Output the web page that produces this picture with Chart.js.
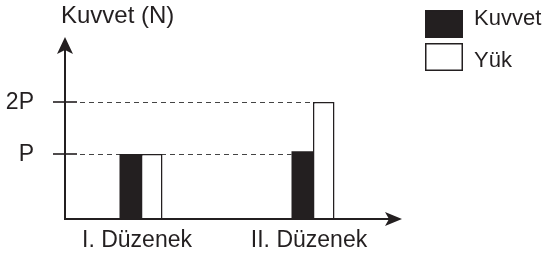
<!DOCTYPE html>
<html>
<head>
<meta charset="utf-8">
<script src="https://cdn.jsdelivr.net/npm/chart.js@4"></script>
<style>
  html, body { margin: 0; padding: 0; background: #fff; }
  #wrap { width: 550px; height: 260px; }
</style>
</head>
<body>
<div id="wrap"><canvas id="myChart" width="550" height="260"></canvas></div>
<script>
const categories = ['I. Düzenek', 'II. Düzenek'];
const kuvvet = [1, 1.05];   // in units of P
const yuk = [1, 2];
const tickValues = [1, 2];
const tickLabels = ['P', '2P'];

const ink = '#231f20';
const family = '"Liberation Sans", Arial, sans-serif';
const yMin = -0.25;

const sketch = {
    id: 'sketch',
    beforeDatasetsDraw(chart) {
        const c = chart.ctx;
        const y = chart.scales.y;
        const bars0 = chart.getDatasetMeta(0).data;
        const bars1 = chart.getDatasetMeta(1).data;
        const last = categories.length - 1;
        c.save();
        // dashed guide lines
        c.strokeStyle = '#444';
        c.lineWidth = 1.2;
        c.setLineDash([5, 4]);
        tickValues.forEach(v => {
            const py = Math.round(y.getPixelForValue(v)) + 0.5;
            let bar = kuvvet[last] >= v - 0.1 ? bars0[last] : bars1[last];
            const endX = bar.x - bar.width / 2;
            c.beginPath();
            c.moveTo(80, py);
            c.lineTo(endX, py);
            c.stroke();
        });
        c.restore();
    },
    afterDatasetsDraw(chart) {
        const c = chart.ctx;
        const x = chart.scales.x;
        const y = chart.scales.y;
        const ax = 65, ay = 219;
        c.save();
        c.strokeStyle = ink;
        c.fillStyle = ink;
        c.lineWidth = 2;
        // y axis
        c.beginPath();
        c.moveTo(ax, ay);
        c.lineTo(ax, 48);
        c.stroke();
        c.beginPath();
        c.moveTo(ax, 37);
        c.lineTo(ax + 8, 54);
        c.lineTo(ax, 50);
        c.lineTo(ax - 8, 54);
        c.closePath();
        c.fill();
        // x axis
        c.beginPath();
        c.moveTo(ax - 1, ay);
        c.lineTo(392, ay);
        c.stroke();
        c.beginPath();
        c.moveTo(402, ay);
        c.lineTo(385, ay - 7);
        c.lineTo(389, ay);
        c.lineTo(385, ay + 7);
        c.closePath();
        c.fill();
        // y ticks and labels
        c.font = '23px ' + family;
        c.lineWidth = 1.6;
        c.textAlign = 'right';
        c.textBaseline = 'alphabetic';
        tickValues.forEach((v, i) => {
            const py = Math.round(y.getPixelForValue(v));
            c.beginPath();
            c.moveTo(53, py);
            c.lineTo(77, py);
            c.stroke();
            c.fillText(tickLabels[i], 34, py + 7);
        });
        // category labels
        c.textAlign = 'center';
        categories.forEach((lab, i) => {
            c.fillText(lab, x.getPixelForValue(i) - 4, 247);
        });
        // axis title
        c.textAlign = 'left';
        c.font = '24px ' + family;
        c.fillText('Kuvvet (N)', 61, 23);
        // legend
        c.font = '22px ' + family;
        chart.data.datasets.forEach((ds, i) => {
            const top = i === 0 ? 10 : 43;
            c.fillStyle = ds.backgroundColor;
            c.fillRect(425, top, 38, 28);
            c.strokeStyle = ink;
            c.lineWidth = 1.5;
            c.strokeRect(425.75, top + 0.75, 36.5, 26.5);
            c.fillStyle = ink;
            c.fillText(ds.label, 474, i === 0 ? 25 : 67);
        });
        c.restore();
    }
};

new Chart(document.getElementById('myChart').getContext('2d'), {
    type: 'bar',
    data: {
        labels: categories,
        datasets: [{
            label: 'Kuvvet',
            data: kuvvet,
            backgroundColor: ink,
            borderColor: ink,
            borderWidth: 0,
            base: yMin
        }, {
            label: 'Yük',
            data: yuk,
            backgroundColor: '#ffffff',
            borderColor: ink,
            borderWidth: 1.5,
            base: yMin
        }]
    },
    options: {
        responsive: false,
        animation: false,
        devicePixelRatio: 1,
        categoryPercentage: 0.25,
        barPercentage: 1,
        layout: { padding: { left: 55, right: 151, top: 40, bottom: 41 } },
        scales: {
            x: { display: false, offset: true },
            y: { display: false, min: yMin, max: 3.19 }
        },
        plugins: {
            legend: { display: false },
            tooltip: { enabled: false }
        }
    },
    plugins: [sketch]
});
</script>
</body>
</html>
